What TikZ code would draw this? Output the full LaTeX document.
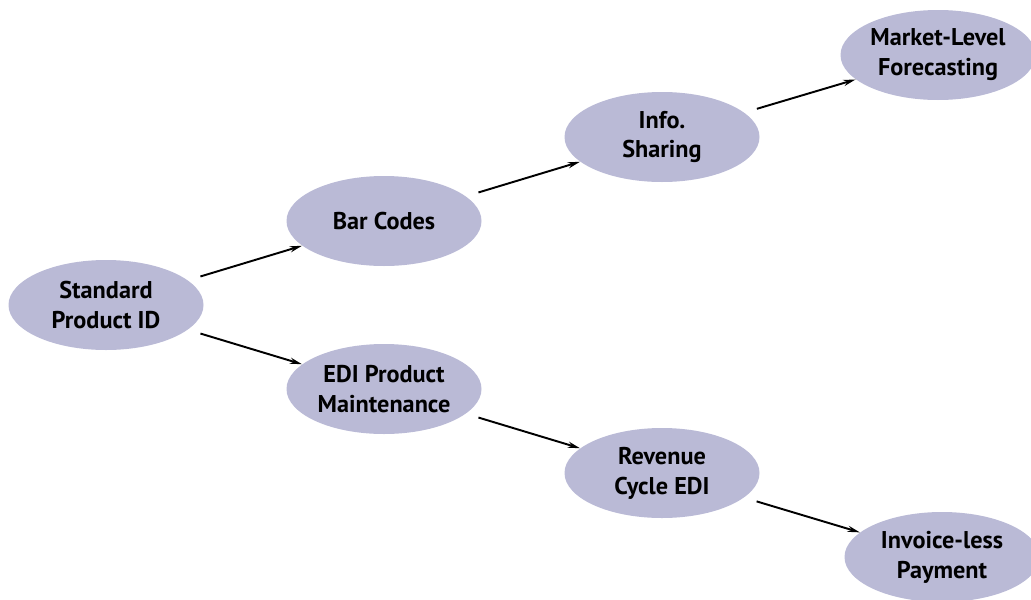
\documentclass[tikz,border=0pt]{standalone}
\usepackage{fontspec}
\setmainfont{PT Sans}
\usepackage{tikz}
\usetikzlibrary{arrows.meta,shapes.geometric}
\definecolor{ovalfill}{RGB}{186,186,214}

\begin{document}
\begin{tikzpicture}[
    oval/.style={ellipse, fill=ovalfill, minimum width=3.9cm, minimum height=1.8cm,
      inner sep=0pt, align=center, font=\fontsize{13.8}{17}\selectfont\bfseries},
    link/.style={line width=1.1pt, -{Stealth[length=7pt,width=3.5pt]},
      shorten <=0.26cm}
  ]
    %% Frame
    \useasboundingbox (0,0) rectangle (20.62,-11.98);
    %% Ovals
    \node[oval] (std)    at (2.12,-6.10)  {Standard\\Product ID};
    \node[oval] (bar)    at (7.68,-4.42)  {Bar Codes};
    \node[oval] (info)   at (13.24,-2.74) {Info.\\Sharing};
    \node[oval] (market) at (18.76,-1.10) {Market-Level\\Forecasting};
    \node[oval] (edi)    at (7.68,-7.78)  {EDI Product\\Maintenance};
    \node[oval] (rev)    at (13.24,-9.46) {Revenue\\Cycle EDI};
    \node[oval] (inv)    at (18.84,-11.14) {Invoice-less\\Payment};
    %% Links
    \draw[link] (std) -- (bar);
    \draw[link] (bar) -- (info);
    \draw[link] (info) -- (market);
    \draw[link] (std) -- (edi);
    \draw[link] (edi) -- (rev);
    \draw[link] (rev) -- (inv);
\end{tikzpicture}
\end{document}
